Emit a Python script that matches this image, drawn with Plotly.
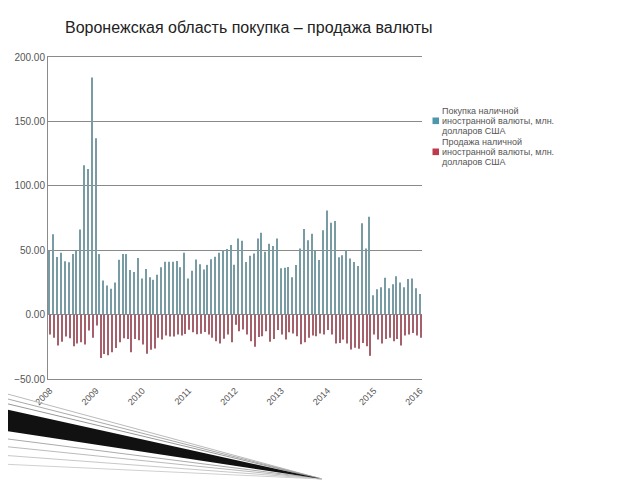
import plotly.graph_objects as go

years = ["2008", "2009", "2010", "2011", "2012", "2013", "2014", "2015", "2016"]

buy = [50, 62.4, 44.8, 48, 41.5, 40.7, 47, 49.5, 66, 116, 113, 184, 137, 47, 26.4, 22.5, 20, 25,
       42.5, 47, 47, 34.7, 33, 44, 28, 35.5, 29, 27, 31, 36.8, 41, 41, 41, 41.7, 36.8, 48,
       28, 34, 42.7, 39, 35, 38.6, 43, 45, 48, 50, 51, 54, 38.8, 59,
       57.4, 40.8, 45.6, 47.4, 59, 63.6, 48.7, 55, 53.3, 59, 36, 36.4, 37, 29, 38.5, 51.3,
       66.4, 57.7, 62.8, 49.7, 42.3, 65.4, 80.8, 71.3, 72.6, 44.6, 46, 50, 43.6, 40.8, 37.7,
       71, 51.3, 76, 15, 19.7, 21.3, 28.7, 20.5, 23.6, 29.7, 25, 21.3, 27.7, 28, 20.5, 16]

sell = [-15.5, -18, -24, -21, -17, -18.4, -24.6, -22.5, -21.5, -23.3, -12.4, -18, -8.5, -33.7,
        -30.6, -31.6, -29.3, -26, -21.5, -18.4, -19, -29.3, -19, -20, -23.3, -30.3, -27.2,
        -26.4, -18, -19.4, -16.3, -17, -17, -15.5, -16.3, -15, -11.7, -13.7, -15.3, -14.8,
        -13.5, -15.5, -17.9, -20.7, -22.5, -18.7,
        -15.5, -21.4, -7.8, -13, -11.6, -15.5, -20.7, -25, -17.3, -16.8, -13, -21, -19, -12,
        -15.5, -19.4, -13.7, -14.7, -16.8, -23, -21.4, -18, -16.3, -16.8, -14.7, -15.5, -12,
        -15.5, -22.5, -22, -19.4, -22.5, -27, -25.8, -26.6, -22, -24.5, -32, -15.5, -19.4,
        -22.5, -19, -18, -20.7, -19, -24, -16.3, -15.5, -14.2, -16.3, -18]

buy_label = ["Покупка наличной", "иностранной валюты, млн.", "долларов США"]
sell_label = ["Продажа наличной", "иностранной валюты, млн.", "долларов США"]

months = list(range(len(buy)))
tickvals = [12 * i for i in range(len(years))]

# page body has an 8px margin: work in screen pixels, shift by O
O = 8
W, H = 640 - O, 480 - O
L, R, T, B = 48 - O, 422 - O, 57 - O, 379 - O
PW, PH = R - L, B - T


def px(sx):
    return (sx - O - L) / PW


def py(sy):
    return (B - (sy - O)) / PH


fig = go.Figure()
fig.add_trace(go.Bar(x=months, y=buy, name=" ".join(buy_label), showlegend=False,
                     marker=dict(color="#789ba4", line=dict(width=0))))
fig.add_trace(go.Bar(x=months, y=sell, name=" ".join(sell_label), showlegend=False,
                     marker=dict(color="#a6606c", line=dict(width=0))))

shapes = []
annotations = []

# manual legend
for lines, y0, col in [(buy_label, 110.5, "#4d97ad"), (sell_label, 141.5, "#bf3a4c")]:
    for k, txt in enumerate(lines):
        annotations.append(dict(text=txt, xref="paper", yref="paper", x=px(439.5),
                                y=py(y0 + 10.3 * k), xanchor="left", yanchor="middle",
                                showarrow=False,
                                font=dict(size=9, color="#555555")))
    yc = y0 + 10.3
    shapes.append(dict(type="rect", xref="paper", yref="paper",
                       x0=px(432.5), x1=px(439), y0=py(yc - 3.3), y1=py(yc + 3.3),
                       fillcolor=col, line=dict(width=0)))

# decorative ribbon at bottom-left
tip = (322, 479)
for y0, col in [(392, "#bbbbbb"), (397, "#aaaaaa"), (402, "#999999"),
                (438, "#aaaaaa"), (446, "#bbbbbb"), (455, "#c8c8c8"), (464, "#d0d0d0")]:
    shapes.append(dict(type="line", xref="paper", yref="paper",
                       x0=px(0), y0=py(y0), x1=px(tip[0]), y1=py(tip[1]),
                       line=dict(color=col, width=1)))
shapes.append(dict(
    type="path", xref="paper", yref="paper",
    path="M {} {} L {} {} L {} {} Z".format(
        px(0), py(408), px(tip[0]), py(tip[1]), px(0), py(430)),
    fillcolor="#111111", line=dict(width=0)))

fig.update_layout(
    width=W, height=H,
    margin=dict(l=L, r=W - R, t=T, b=H - B, pad=0),
    paper_bgcolor="white", plot_bgcolor="white",
    barmode="group", bargap=0.45, bargroupgap=0,
    font=dict(family="Liberation Sans, Arial, sans-serif", color="#444444", size=9),
    title=dict(text="Воронежская область покупка – продажа валюты",
               x=(65 - O) / W, xanchor="left", xref="container",
               y=1 - (27 - O) / H, yanchor="middle", yref="container",
               font=dict(size=16, color="#222222",
                         family="Liberation Sans, Arial, sans-serif")),
    xaxis=dict(range=[-0.5, len(buy) - 0.5], tickmode="array", tickvals=tickvals,
               ticktext=years, tickangle=-45, showgrid=False, zeroline=False,
               showline=True, mirror=True, linecolor="#8a8a8a", linewidth=1,
               ticks="", ticklabelstandoff=2, automargin=False,
               tickfont=dict(size=9, color="#555555")),
    yaxis=dict(range=[-50, 200], dtick=50, tickformat=".2f", showgrid=True,
               gridcolor="#8a8a8a", gridwidth=1, zeroline=True, zerolinecolor="#8a8a8a",
               zerolinewidth=1, showline=True, linecolor="#8a8a8a", linewidth=1,
               ticks="", ticklabelstandoff=0, automargin=False,
               tickfont=dict(size=10, color="#555555")),
    showlegend=False,
    shapes=shapes,
    annotations=annotations,
)

fig.write_html("out.html")
